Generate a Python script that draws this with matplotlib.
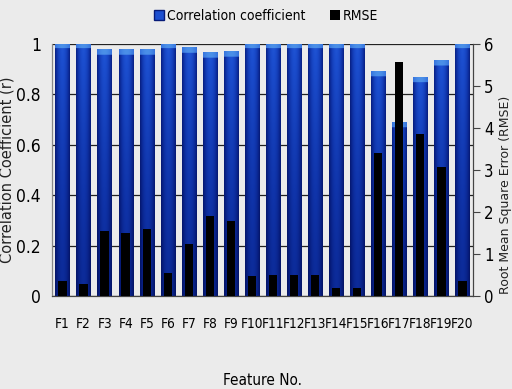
import numpy as np
import matplotlib.pyplot as plt
from matplotlib.colors import LinearSegmentedColormap
from matplotlib.patches import Patch

features = ['F%d' % i for i in range(1, 21)]
corr = [1.0, 1.0, 0.978, 0.977, 0.977, 1.0, 0.986, 0.966, 0.970, 1.0,
        1.0, 1.0, 1.0, 1.0, 1.0, 0.890, 0.688, 0.867, 0.934, 1.0]
rmse = [0.35, 0.29, 1.55, 1.51, 1.60, 0.56, 1.24, 1.90, 1.78, 0.48,
        0.50, 0.50, 0.49, 0.18, 0.18, 3.41, 5.56, 3.86, 3.08, 0.36]

bg = '#ebebeb'
cond = dict(family='DejaVu Sans', stretch='condensed')

fig = plt.figure(figsize=(5.12, 3.89), dpi=100, facecolor=bg)
ax = fig.add_axes([0.1016, 0.239, 0.822, 0.648], facecolor=bg)
ax2 = ax.twinx()

x = np.arange(len(features))
w_blue = 0.68
w_black = 0.40

# gradient for the blue bars: dark edges, brighter middle, light cap on top
cmap = LinearSegmentedColormap.from_list('bars', ['#020836', '#061a78', '#0f33a8', '#1c4fd0', '#4f95ea'])
h = np.linspace(-1, 1, 40)
side = 1 - 0.6 * h ** 2
for xi, v in zip(x, corr):
    n = 300
    yy = np.linspace(0, 1, n)[:, None]
    vert = 0.42 + 0.36 * yy ** 1.5
    img = side[None, :] * vert
    cap = yy > 1 - 0.02 / v
    img = np.where(cap, 0.8 + 0.18 * side[None, :], img)
    ax.imshow(img, cmap=cmap, vmin=0, vmax=1, origin='lower', aspect='auto',
              extent=(xi - w_blue / 2, xi + w_blue / 2, 0, v), zorder=2,
              interpolation='bilinear')

ax2.bar(x, rmse, width=w_black, color='black', zorder=3)

ax.set_xlim(-0.5, 19.5)
ax.set_ylim(0, 1)
ax2.set_ylim(0, 6)
ax.set_aspect('auto')

ax.set_yticks([0, 0.2, 0.4, 0.6, 0.8, 1])
ax.set_yticklabels(['0', '0.2', '0.4', '0.6', '0.8', '1'], fontsize=12.5, **cond)
ax.yaxis.grid(True, color='#222222', linewidth=0.9)
ax.set_axisbelow(True)
ax.tick_params(axis='y', length=0, pad=8)

ax.set_xticks(x)
ax.set_xticklabels(features, fontsize=9.8, **cond)
ax.tick_params(axis='x', length=0, pad=15)

ax2.set_yticks(range(7))
ax2.set_yticklabels([str(i) for i in range(7)], fontsize=12, **cond)
ax2.tick_params(axis='y', length=5, width=0.8, color='#444444', pad=3)

for a in (ax, ax2):
    a.spines['top'].set_visible(False)
    a.spines['left'].set_color('#888888')
    a.spines['right'].set_color('#444444')
    a.spines['bottom'].set_color('#444444')

ax.set_ylabel('Correlation Coefficient (r)', fontsize=10.5, color='#222222')
ax.yaxis.set_label_coords(-0.088, 0.5)
ax2.set_ylabel('Root Mean Square Error (RMSE)', fontsize=9, color='#222222')
ax2.yaxis.set_label_coords(1.062, 0.40)
ax.set_xlabel('Feature No.', fontsize=11, labelpad=30, **cond)

handles = [Patch(facecolor='#1c4fd0', edgecolor='#061a78'), Patch(facecolor='black')]
fig.legend(handles, ['Correlation coefficient', 'RMSE'], loc='upper center',
           bbox_to_anchor=(0.52, 1.01), ncol=2, frameon=False,
           prop={'family': 'DejaVu Sans', 'stretch': 'condensed', 'size': 10},
           handlelength=0.7, handleheight=0.7, handletextpad=0.2, columnspacing=1.8)

fig.savefig('out.png', dpi=100, facecolor=bg)
